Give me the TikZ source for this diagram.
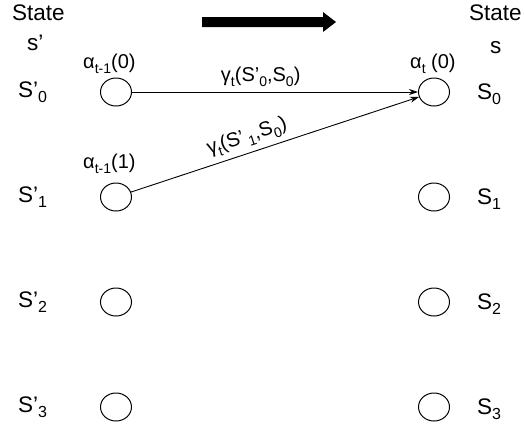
\documentclass[tikz,border=0pt]{standalone}
\usepackage{fontspec}
\setmainfont{Liberation Sans}
\usetikzlibrary{shapes.geometric,arrows.meta}
\newcommand\sbL[1]{\raisebox{-0.5ex}{\fontsize{16}{16}\selectfont #1}}
\newcommand\sbS[1]{\raisebox{-0.5ex}{\fontsize{14}{14}\selectfont #1}}
\begin{document}
\begin{tikzpicture}[x=1pt,y=-1pt,
  st/.style={draw,ellipse,minimum width=31pt,minimum height=28pt,inner sep=0pt,line width=1pt},
  lab/.style={font=\fontsize{22.5}{24}\selectfont,inner sep=0pt},
  small/.style={font=\fontsize{20}{22}\selectfont,inner sep=0pt},
  conn/.style={line width=0.9pt,-{Stealth[length=9pt,width=6pt]}}]
\useasboundingbox (0,0) rectangle (525,432);
% big direction arrow
\fill (202,17) -- (323,17) -- (323,12) -- (336,22) -- (323,32) -- (323,27) -- (202,27) -- cycle;
% state circles
\foreach \i/\y in {0/92,1/197,2/302,3/407}{
  \node[st] (L\i) at (116,\y) {};
  \node[st] (R\i) at (434,\y) {};
  \node[lab,anchor=base west] (LL\i) at (18,\y+5) {S’\sbL{\i}};
  \node[lab,anchor=base west] (RL\i) at (477,\y+7) {S\sbL{\i}};
}
% headers
\node[lab,anchor=base west] (hl1) at (12,20) {State};
\node[lab,anchor=base west] (hl2) at (27,50) {s’};
\node[lab,anchor=base west] (hr1) at (469,20) {State};
\node[lab,anchor=base west] (hr2) at (490,53) {s};
% alpha labels
\node[small,anchor=base west] (a0) at (83,68) {α\sbS{t-1}(0)};
\node[small,anchor=base west] (a1) at (83,168) {α\sbS{t-1}(1)};
\node[small,anchor=base west] (a2) at (410,68) {α\sbS{t} (0)};
% transitions
\draw[conn] (L0) -- node[small,anchor=base,pos=0.45,yshift=11pt] (g0) {γ\sbS{t}(S’\sbS{0},S\sbS{0})} (R0);
\draw[conn] (L1) -- node[small,sloped,above=5pt,pos=0.42] (g1) {γ\sbS{t}(S’\,\sbS{1},S\sbS{0})} (R0);
\end{tikzpicture}
\end{document}
